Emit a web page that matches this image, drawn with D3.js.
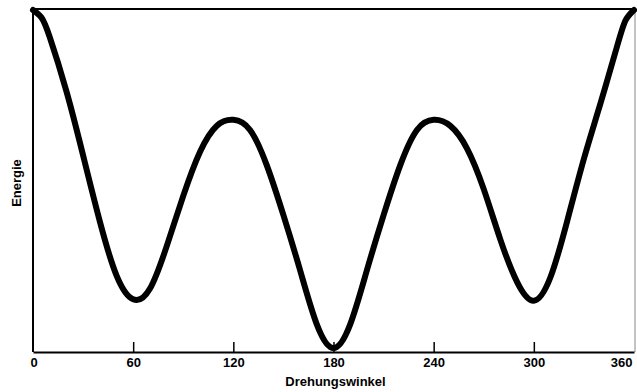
<!DOCTYPE html>
<html>
<head>
<meta charset="utf-8">
<script src="https://cdn.jsdelivr.net/npm/d3@7"></script>
<style>
  html, body { margin: 0; padding: 0; background: #fff; }
  svg { display: block; }
  text { font-family: "Liberation Sans", Arial, sans-serif; fill: #000; }
</style>
</head>
<body>
<svg id="chart" width="637" height="392"></svg>
<script>
// Rotation angle (degrees) and relative energy along the curve
const angles = [0, 5, 10, 20, 30, 40, 50, 60, 70, 80, 90, 100, 110, 120, 130, 140, 150, 160, 170, 180,
                190, 200, 210, 220, 230, 240, 250, 260, 270, 280, 290, 300, 310, 320, 330, 340, 350, 355, 360];
const energy = [100, 97.8, 92.0, 76.0, 57.0, 37.5, 21.5, 14.4, 17.5, 30.0, 45.0, 58.0, 65.7, 67.5, 64.5, 54.1, 39.3, 23.0, 7.0, 0,
                7.0, 23.0, 39.3, 54.1, 64.5, 67.5, 65.7, 59.0, 47.0, 32.0, 19.5, 14.0, 21.0, 37.6, 56.0, 72.5, 89.5, 97.0, 100];
const xTicks = [0, 60, 120, 180, 240, 300, 360];
const xTitle = "Drehungswinkel";
const yTitle = "Energie";

const svg = d3.select("#chart");
const plotLeft = 33, plotRight = 634, plotTop = 9, plotBottom = 352;

const x = d3.scaleLinear().domain([0, 360]).range([plotLeft, plotRight]);
const y = d3.scaleLinear().domain([0, 100]).range([plotBottom - 4, plotTop + 1]);

// frame
svg.append("line").attr("x1", plotLeft).attr("x2", plotLeft).attr("y1", plotTop).attr("y2", plotBottom)
  .attr("stroke", "#000").attr("stroke-width", 2);
svg.append("line").attr("x1", plotLeft).attr("x2", plotRight).attr("y1", plotTop).attr("y2", plotTop)
  .attr("stroke", "#000").attr("stroke-width", 2);
svg.append("line").attr("x1", plotRight + 1).attr("x2", plotRight + 1).attr("y1", plotTop).attr("y2", plotBottom)
  .attr("stroke", "#888").attr("stroke-width", 1);

// bottom axis with inward ticks
const axis = d3.axisBottom(x)
  .tickValues(xTicks)
  .tickFormat(d3.format("d"))
  .tickSizeInner(-10)
  .tickSizeOuter(0)
  .tickPadding(6);

const gx = svg.append("g").attr("transform", `translate(0,${plotBottom})`).call(axis);
gx.select(".domain").attr("stroke", "#000").attr("stroke-width", 2.2);
gx.selectAll(".tick line").attr("stroke", "#000").attr("stroke-width", 1.5)
  .filter(d => d === 0 || d === 360).remove();
gx.selectAll(".tick text")
  .style("font-size", "13px")
  .style("font-weight", "bold")
  .attr("text-anchor", d => d === 360 ? "end" : (d === 0 ? "start" : "middle"))
  .attr("dx", d => d === 360 ? "-2" : (d === 0 ? "-3" : "0"));

// axis titles
svg.append("text")
  .attr("x", (plotLeft + plotRight) / 2 + 2)
  .attr("y", 386)
  .attr("text-anchor", "middle")
  .style("font-size", "13px")
  .style("font-weight", "bold")
  .text(xTitle);

svg.append("text")
  .attr("transform", "translate(21,183) rotate(-90)")
  .attr("text-anchor", "middle")
  .style("font-size", "13px")
  .style("font-weight", "bold")
  .text(yTitle);

// energy curve (smooth cubic spline through the read values)
const line = d3.line()
  .x((d, i) => x(angles[i]))
  .y(d => y(d))
  .curve(d3.curveNatural);

svg.append("path")
  .datum(energy)
  .attr("d", line)
  .attr("fill", "none")
  .attr("stroke", "#000")
  .attr("stroke-width", 6)
  .attr("stroke-linejoin", "round")
  .attr("stroke-linecap", "round");
</script>
</body>
</html>
